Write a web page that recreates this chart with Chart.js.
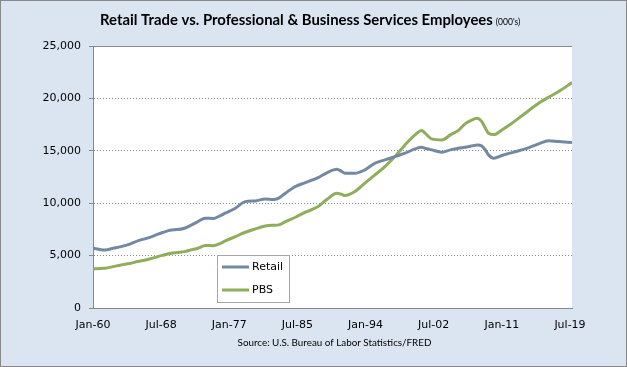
<!DOCTYPE html>
<html><head><meta charset="utf-8">
<script src="https://cdn.jsdelivr.net/npm/chart.js@4"></script>
<style>html,body{margin:0;padding:0;background:#dbe5f1}canvas{display:block}</style>
</head><body>
<canvas id="c" width="627" height="367"></canvas>
<script>
// ---- data (thousands of employees) ----
const dates = ["1960-01","1961-01","1961-07","1962-07","1963-07","1964-08","1965-08","1966-09","1967-09","1968-09",
  "1969-10","1970-07","1971-06","1972-04","1973-02","1974-01","1975-01","1975-11","1976-07","1977-10",
  "1979-01","1980-04","1981-07","1982-07","1983-03","1984-01","1985-04","1986-07","1988-02","1989-03",
  "1990-06","1991-01","1991-06","1992-09","1993-12","1995-03","1996-06","1997-09","1998-12","2000-03",
  "2001-01","2001-06","2002-04","2003-07","2004-08","2005-08","2006-06","2007-03","2007-12","2008-07",
  "2008-12","2009-05","2010-01","2011-01","2012-04","2013-12","2015-08","2016-11","2018-02","2019-10"];
const retail = [5700,5560,5540,5700,5860,6100,6400,6650,6910,7200,
  7450,7480,7610,7900,8240,8570,8550,8800,9050,9520,
  10150,10220,10410,10350,10480,10950,11590,11970,12440,12900,
  13240,13050,12860,12860,13180,13810,14130,14450,14770,15180,
  15340,15250,15090,14870,15090,15250,15340,15450,15560,15450,
  15100,14610,14290,14550,14830,15180,15660,15970,15880,15780];
const pbs = [3730,3780,3800,3950,4110,4250,4430,4600,4810,5020,
  5230,5300,5380,5550,5700,5960,5950,6150,6400,6810,
  7230,7550,7830,7900,7930,8240,8660,9140,9680,10350,
  10950,10850,10730,11110,11910,12700,13490,14450,15560,16520,
  16930,16680,16140,16040,16520,16950,17570,17900,18110,17790,
  17200,16680,16550,16990,17630,18590,19540,20110,20650,21510];
const seriesNames = ["Retail","PBS"];
const tickLabels = ["Jan-60","Jul-68","Jan-77","Jul-85","Jan-94","Jul-02","Jan-11","Jul-19"];
const yTicks = [0,5000,10000,15000,20000,25000];
const titleText = "Retail Trade vs. Professional & Business Services Employees";
const titleUnit = "(000's)";
const sourceText = "Source: U.S. Bureau of Labor Statistics/FRED";
const firstMonth = "1960-01", lastMonth = "2019-10";

// ---- helpers ----
const MON = {Jan:0,Feb:1,Mar:2,Apr:3,May:4,Jun:5,Jul:6,Aug:7,Sep:8,Oct:9,Nov:10,Dec:11};
function dateIdx(s){const [y,m]=s.split('-').map(Number);return (y-1960)*12+(m-1);}
function labelIdx(l){const [mn,yy]=l.split('-');let y=Number(yy);y+= y<50?2000:1900;return (y-1960)*12+MON[mn];}
const tickIdx = tickLabels.map(labelIdx);
const colors = ['#7389a1','#8fad5b'];
const GRID = '#8a8a8a';

const chromePlugin = {
  id:'chrome',
  beforeDraw(chart){
    const {ctx, chartArea:a} = chart;
    ctx.save();
    ctx.fillStyle='#dbe5f1';ctx.fillRect(0,0,chart.width,chart.height);
    ctx.fillStyle='#ffffff';ctx.fillRect(a.left,a.top,a.right-a.left,a.bottom-a.top);
    ctx.restore();
  },
  afterDraw(chart){
    const {ctx, chartArea:a} = chart;
    ctx.save();
    // top border of plot
    ctx.strokeStyle=GRID;ctx.lineWidth=1;
    ctx.beginPath();ctx.moveTo(a.left,Math.round(a.top)+0.5);ctx.lineTo(a.right,Math.round(a.top)+0.5);ctx.stroke();
    // outer border
    ctx.strokeStyle='#888888';ctx.strokeRect(0.5,0.5,chart.width-1,chart.height-1);
    // legend
    ctx.fillStyle='#ffffff';ctx.fillRect(217.5,255.5,72,47);
    ctx.strokeStyle='#a6a6a6';ctx.strokeRect(217.5,255.5,72,47);
    ctx.font='11px "DejaVu Sans"';ctx.textBaseline='middle';ctx.textAlign='left';
    chart.data.datasets.forEach((ds,i)=>{
      const y=267+i*23;
      ctx.strokeStyle=ds.borderColor;ctx.lineWidth=3;
      ctx.beginPath();ctx.moveTo(222,y);ctx.lineTo(249,y);ctx.stroke();
      ctx.fillStyle='#000';ctx.fillText(ds.label,252,y+0.5);
    });
    // title
    ctx.fillStyle='#000';ctx.textBaseline='alphabetic';
    ctx.font='bold 14px Lato';
    let w=ctx.measureText(titleText).width;
    const ts=14*393/w;
    ctx.font=`bold ${ts.toFixed(2)}px Lato`;
    ctx.fillText(titleText,100,24.5);
    w=ctx.measureText(titleText).width;
    ctx.font='8.5px Lato';
    ctx.fillText(titleUnit,100+w+3,24.5);
    // source
    ctx.font='10px Lato';
    w=ctx.measureText(sourceText).width;
    const ss=10*194/w;
    ctx.font=`${ss.toFixed(2)}px Lato`;
    ctx.textAlign='center';ctx.textBaseline='middle';
    ctx.fillText(sourceText,334.5,343);
    ctx.restore();
  }
};

const mk = arr => dates.map((d,i)=>({x:dateIdx(d),y:arr[i]}));

new Chart(document.getElementById('c'),{
  type:'line',
  data:{datasets:[
    {label:seriesNames[0],data:mk(retail),borderColor:colors[0],borderWidth:3,pointRadius:0,cubicInterpolationMode:'monotone'},
    {label:seriesNames[1],data:mk(pbs),borderColor:colors[1],borderWidth:3,pointRadius:0,cubicInterpolationMode:'monotone'}
  ]},
  options:{
    responsive:false,animation:false,devicePixelRatio:1,
    layout:{padding:{top:46,right:55,left:0,bottom:0}},
    plugins:{legend:{display:false},title:{display:false},tooltip:{enabled:false}},
    scales:{
      x:{type:'linear',min:dateIdx(firstMonth),max:dateIdx(lastMonth),
        afterBuildTicks:s=>{s.ticks=tickIdx.map(v=>({value:v}));},
        afterFit:s=>{s.height=59;},
        ticks:{autoSkip:false,maxRotation:0,padding:11,color:'#000',font:{family:'DejaVu Sans',size:11},
          callback:v=>{const k=tickIdx.indexOf(v);return k>=0?tickLabels[k]:'';}},
        grid:{drawOnChartArea:false,drawTicks:false},
        border:{display:true,color:GRID,width:1}
      },
      y:{min:0,max:25000,
        afterBuildTicks:s=>{s.ticks=yTicks.map(v=>({value:v}));},
        afterFit:s=>{s.width=93;},
        ticks:{padding:8,color:'#000',font:{family:'DejaVu Sans',size:11},
          callback:v=>v.toLocaleString('en-US')},
        grid:{color:GRID,lineWidth:1,tickLength:4,tickColor:GRID,tickBorderDash:[]},
        border:{display:true,color:GRID,width:1,dash:[1,2]}
      }
    }
  },
  plugins:[chromePlugin]
});
</script>
</body></html>
